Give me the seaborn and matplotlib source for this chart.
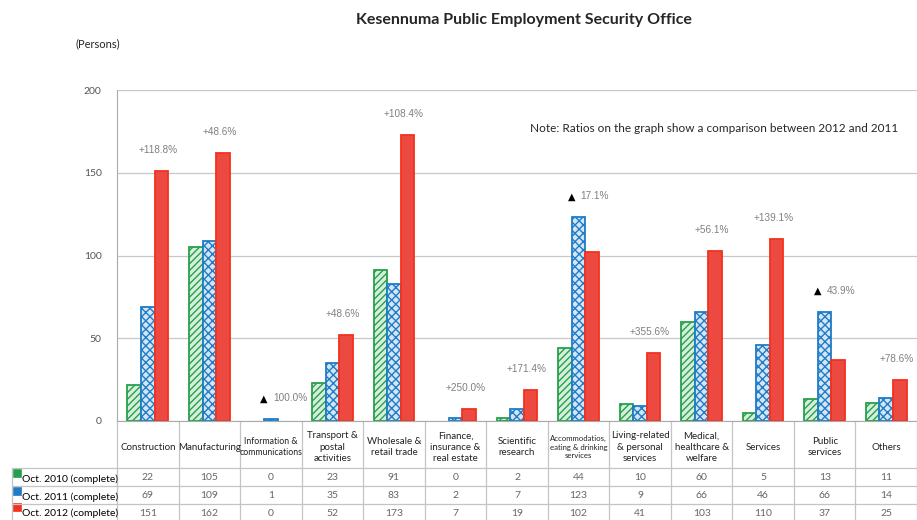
import matplotlib
matplotlib.use("Agg")
import matplotlib.pyplot as plt
import matplotlib.transforms as mtransforms
from matplotlib.lines import Line2D
from matplotlib.patches import Rectangle
import pandas as pd
import seaborn as sns

categories = ["Construction", "Manufacturing", "Information &\ncommunications",
              "Transport &\npostal\nactivities", "Wholesale &\nretail trade",
              "Finance,\ninsurance &\nreal estate", "Scientific\nresearch",
              "Accommodatios,\neating & drinking\nservices",
              "Living-related\n& personal\nservices", "Medical,\nhealthcare &\nwelfare",
              "Services", "Public\nservices", "Others"]
periods = ["Oct. 2010 (complete)", "Oct. 2011 (complete)", "Oct. 2012 (complete)"]
oct_2010 = [22, 105, 0, 23, 91, 0, 2, 44, 10, 60, 5, 13, 11]
oct_2011 = [69, 109, 1, 35, 83, 2, 7, 123, 9, 66, 46, 66, 14]
oct_2012 = [151, 162, 0, 52, 173, 7, 19, 102, 41, 103, 110, 37, 25]
ratios = ["+118.8%", "+48.6%", "▲ 100.0%", "+48.6%", "+108.4%", "+250.0%", "+171.4%",
          "▲ 17.1%", "+355.6%", "+56.1%", "+139.1%", "▲ 43.9%", "+78.6%"]

df = pd.DataFrame({"category": categories, periods[0]: oct_2010,
                   periods[1]: oct_2011, periods[2]: oct_2012})
long_df = df.melt(id_vars="category", var_name="period", value_name="persons")

sns.set_style("white")
plt.rcParams["font.family"] = ["Lato", "DejaVu Sans"]
plt.rcParams["hatch.linewidth"] = 1.0

W, H = 917, 520
fig = plt.figure(figsize=(W / 100, H / 100), dpi=100)
ax = fig.add_axes([117 / W, 99 / H, 800 / W, 331 / H])

sns.barplot(data=long_df, x="category", y="persons", hue="period", hue_order=periods,
            order=categories, width=0.66, legend=False, ax=ax)

styles = [("#d6efdc", "#27a04c", "/////"),
          ("#d4e6f6", "#1f7cc6", "xxxx"),
          ("#ec4a40", "#f4301f", None)]
for cont, (fc, ec, hatch) in zip(ax.containers, styles):
    for bar in cont:
        bar.set_facecolor(fc)
        bar.set_edgecolor(ec)
        bar.set_linewidth(1.3 if bar.get_height() > 0 else 0)
        if hatch:
            bar.set_hatch(hatch)

ax.set_xlim(-0.5, 12.5)
ax.set_ylim(0, 200)
ax.set_yticks([0, 50, 100, 150, 200])
ax.tick_params(axis="y", length=0, pad=11, labelsize=7.5, labelcolor="#555555")
ax.set_xticks([])
ax.set_xlabel("")
ax.set_ylabel("")
ax.grid(axis="y", color="#c8c8c8", linewidth=0.9)
ax.set_axisbelow(True)
for side in ["top", "right"]:
    ax.spines[side].set_visible(False)
ax.spines["left"].set_color("#aaaaaa")
ax.spines["bottom"].set_color("#aaaaaa")

# ratio labels above each group
for i, lab in enumerate(ratios):
    top = max(oct_2010[i], oct_2011[i], oct_2012[i])
    if lab.startswith("▲"):
        ax.annotate("▲", (i, top), xytext=(-3, 21), textcoords="offset pixels",
                    ha="right", va="center", fontsize=7, color="black",
                    family=["DejaVu Sans"])
        ax.annotate(lab[2:], (i, top), xytext=(2, 21), textcoords="offset pixels",
                    ha="left", va="center", fontsize=7.2, color="#808080",
                    family=["Liberation Sans"])
    else:
        ax.annotate(lab, (i, top), xytext=(10, 21), textcoords="offset pixels",
                    ha="center", va="center", fontsize=7.2, color="#808080",
                    family=["Liberation Sans"])

# data table under the axis
def ay(ypx):
    return (421 - ypx) / 331

def fy(ypx):
    return 1 - ypx / H

trans = mtransforms.blended_transform_factory(ax.transData, ax.transAxes)
grid_c = "#c4c4c4"
for k in range(14):
    ax.add_line(Line2D([k - 0.5, k - 0.5], [0, ay(522)], transform=trans,
                       color=grid_c, lw=0.9, clip_on=False))
for ypx in [468, 486, 504]:
    fig.add_artist(Line2D([12 / W, 1.0], [fy(ypx), fy(ypx)], color=grid_c, lw=0.9))
fig.add_artist(Line2D([12 / W, 12 / W], [fy(468), fy(522)], color=grid_c, lw=0.9))

for i, cat in enumerate(categories):
    if cat.startswith("Accommod"):
        fs = 5.6
    elif cat.startswith("Information"):
        fs = 6.3
    else:
        fs = 7.0
    ax.text(i, ay(447), cat, transform=trans, ha="center", va="center",
            fontsize=fs, color="#222222", linespacing=1.3)
    for vals, ypx in zip([oct_2010, oct_2011, oct_2012], [477, 495, 513]):
        ax.text(i, ay(ypx), str(vals[i]), transform=trans, ha="center", va="center",
                fontsize=7.5, color="#666666")

for (fc, ec, _), name, ypx in zip(styles, periods, [479, 497, 513]):
    fig.text(22 / W, fy(ypx), name, ha="left", va="center", fontsize=7.5, color="black")
    fig.add_artist(Rectangle((13 / W, fy(ypx - 2)), 8 / W, 8 / H,
                             facecolor=ec, edgecolor=ec, lw=0.5))

fig.text(524 / W, fy(20), "Kesennuma Public Employment Security Office",
         ha="center", va="center", fontsize=11.5, fontweight="bold")
fig.text(75 / W, fy(44), "(Persons)", ha="left", va="center", fontsize=8)
fig.text(530 / W, fy(129), "Note: Ratios on the graph show a comparison between 2012 and 2011",
         ha="left", va="center", fontsize=8.5)

fig.savefig("out.png", dpi=100)
